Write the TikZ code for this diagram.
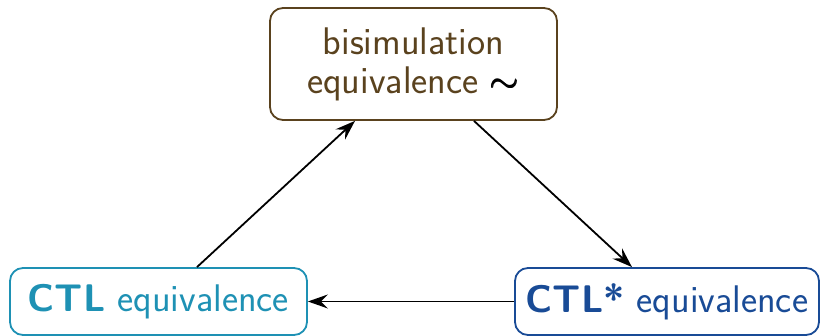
\documentclass[tikz,border=0pt]{standalone}
\usepackage{amsmath}
\usepackage{fontspec}
\usetikzlibrary{positioning,arrows.meta}
\definecolor{bisimbrown}{RGB}{90,66,30}
\definecolor{ctlteal}{RGB}{30,145,180}
\definecolor{ctlblue}{RGB}{25,75,150}
\begin{document}
\begin{tikzpicture}[x=1pt, y=1pt,
    font=\sffamily\fontsize{38.5}{39}\selectfont,
    eqbox/.style={draw, line width=1.8pt, rounded corners=13pt, align=center, inner sep=0pt},
    implies/.style={-{Stealth[length=20pt, width=14pt, inset=7pt]}, line width=1.8pt}]
  \useasboundingbox (0,0) rectangle (820,336);

  % the three equivalences
  \node[eqbox, draw=bisimbrown, text=bisimbrown, minimum width=287pt, minimum height=112pt]
    (bisim) at (413.5,272) {bisimulation\\equivalence \textcolor{black}{\scalebox{1.5}{$\pmb{\sim}$}}};
  \node[eqbox, draw=ctlteal, text=ctlteal, minimum width=297pt, minimum height=67pt]
    (ctl) at (158.5,34.5) {\textbf{CTL} equivalence};
  \node[eqbox, draw=ctlblue, text=ctlblue, minimum width=304pt, minimum height=67pt]
    (ctlstar) at (667,34.5) {\textbf{CTL*} equivalence};

  % implications
  \draw[implies] ([xshift=38.5pt]ctl.north) -- ([xshift=-58.5pt]bisim.south);
  \draw[implies] ([xshift=60.5pt]bisim.south) -- ([xshift=-35pt]ctlstar.north);
  \draw[implies] (ctlstar.west) -- (ctl.east);
\end{tikzpicture}
\end{document}
